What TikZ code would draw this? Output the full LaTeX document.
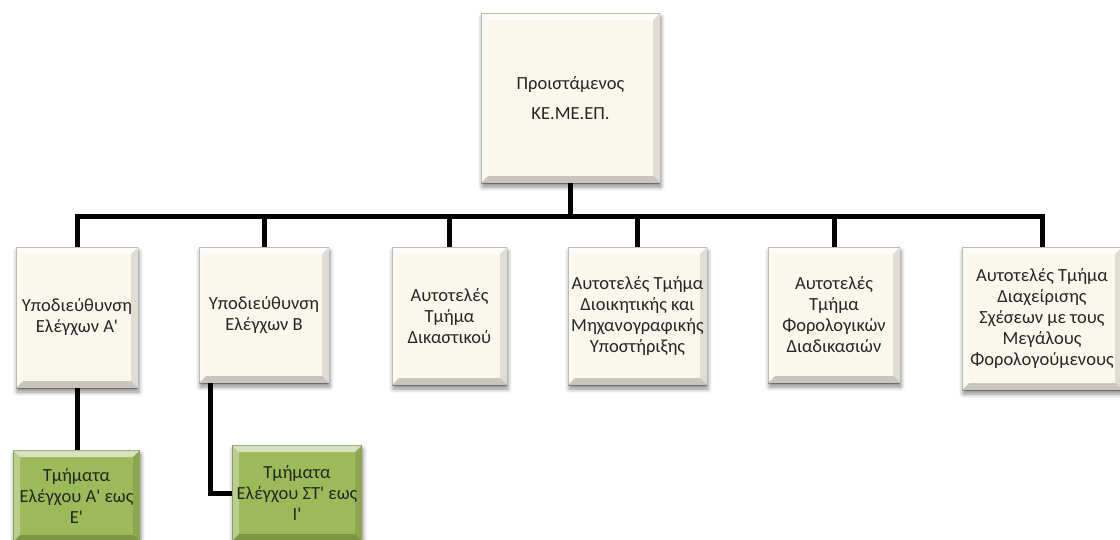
\documentclass[tikz,border=0pt]{standalone}
\usepackage{fontspec}
\setmainfont{Carlito}
\usetikzlibrary{shadows.blur}
\definecolor{cream}{HTML}{FAF8EC}
\definecolor{olivegreen}{HTML}{9BBB59}
\tikzset{
  bevel/.style={path picture={
    \coordinate (nw) at (path picture bounding box.north west);
    \coordinate (ne) at (path picture bounding box.north east);
    \coordinate (sw) at (path picture bounding box.south west);
    \coordinate (se) at (path picture bounding box.south east);
    \coordinate (inw) at ([shift={(7pt,-7pt)}]nw);
    \coordinate (ine) at ([shift={(-7pt,-7pt)}]ne);
    \coordinate (isw) at ([shift={(7pt,7pt)}]sw);
    \coordinate (ise) at ([shift={(-7pt,7pt)}]se);
    \fill[white,opacity=.6] (nw)--(ne)--(ine)--(inw)--cycle;
    \fill[white,opacity=.3] (nw)--(inw)--(isw)--(sw)--cycle;
    \fill[black,opacity=.10] (ne)--(se)--(ise)--(ine)--cycle;
    \fill[black,opacity=.20] (sw)--(se)--(ise)--(isw)--cycle;
    \draw[black,opacity=.25,line width=1pt] (nw) rectangle (se);
  }},
  unitbox/.style={rectangle, fill=cream, draw=none, align=center,
    inner sep=1pt, text=black!85, font=\fontsize{18.5}{21}\selectfont, bevel,
    blur shadow={shadow xshift=1pt, shadow yshift=-4pt,
                 shadow blur radius=4pt, shadow opacity=45}},
  greenbox/.style={unitbox, fill=olivegreen},
  link/.style={line width=5pt, black},
}
\begin{document}
\begin{tikzpicture}[x=1pt,y=-1pt]
\useasboundingbox (0,0) rectangle (1120,539);

% head of the centre
\node[unitbox, minimum width=179pt, minimum height=170pt,
      font=\fontsize{18.5}{30}\selectfont] (head) at (570.5,98)
  {Προιστάμενος\\ΚΕ.ΜΕ.ΕΠ.};

% first level units
\node[unitbox, minimum width=122pt, minimum height=141pt] (sub1) at (77,317.5)
  {Υποδιεύθυνση\\Ελέγχων Α\textquotesingle};
\node[unitbox, minimum width=130pt, minimum height=136pt] (sub2) at (264,315)
  {Υποδιεύθυνση\\Ελέγχων Β};
\node[unitbox, minimum width=115pt, minimum height=138pt] (dik) at (449.5,316)
  {Αυτοτελές\\Τμήμα\\Δικαστικού};
\node[unitbox, minimum width=139pt, minimum height=138pt] (dioik) at (637.5,316)
  {Αυτοτελές Τμήμα\\Διοικητικής και\\Μηχανογραφικής\\Υποστήριξης};
\node[unitbox, minimum width=132pt, minimum height=136pt] (forol) at (834,315)
  {Αυτοτελές\\Τμήμα\\Φορολογικών\\Διαδικασιών};
\node[unitbox, minimum width=160pt, minimum height=143pt] (megal) at (1042,318.5)
  {Αυτοτελές Τμήμα\\Διαχείρισης\\Σχέσεων με τους\\Μεγάλους\\Φορολογούμενους};

% audit sections
\node[greenbox, minimum width=127pt, minimum height=92pt] (tm1) at (76.5,496)
  {Τμήματα\\Ελέγχου Α\textquotesingle{} εως\\Ε\textquotesingle};
\node[greenbox, minimum width=130pt, minimum height=96pt] (tm2) at (297,493)
  {Τμήματα\\Ελέγχου ΣΤ\textquotesingle{} εως\\Ι\textquotesingle};

% connectors
\coordinate (bus) at (570.5,216);
\draw[link] (head.south) -- (bus);
\draw[link] (sub1.north) -- (sub1.north |- bus) -- (megal.north |- bus) -- (megal.north);
\foreach \n in {sub2,dik,dioik,forol}
  \draw[link] (\n.north) -- (\n.north |- bus);
\draw[link] (sub1.south) -- (sub1.south |- tm1.north);
\draw[link] ([xshift=12pt]sub2.south west) |- (tm2.west);
\end{tikzpicture}
\end{document}
